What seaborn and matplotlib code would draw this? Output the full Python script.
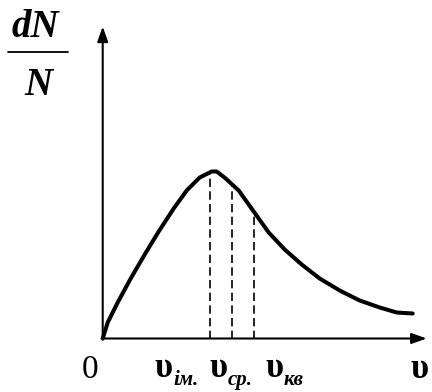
import matplotlib
matplotlib.use("Agg")
import matplotlib.pyplot as plt
import seaborn as sns
import pandas as pd

# Maxwell speed distribution sketch (arbitrary units)
v = [0, 5, 15, 28, 42, 56, 71, 84, 97, 109, 114, 123, 136, 151, 166, 182, 199, 217, 237, 257, 277, 294, 310]
f = [0, 16, 36, 60, 84, 107, 130, 148, 161, 167, 167, 160, 148, 127, 106, 89, 74, 60, 48, 38, 31, 26, 25]

# characteristic speeds: most probable, mean, root-mean-square
v_marks = [107, 129, 151]
f_marks = [167, 154, 127]
mark_names = ["ім.", "ср.", "кв"]

df = pd.DataFrame({"v": v, "f": f})

sns.set_style("white")
plt.rcParams['font.family'] = ['Liberation Serif', 'DejaVu Serif']
plt.rcParams['text.color'] = 'black'

fig = plt.figure(figsize=(4.32, 3.92), dpi=100)
ax = fig.add_axes([0, 0, 1, 1])
ax.set_xlim(-102.7, 432 - 102.7)
ax.set_ylim(-(392 - 338.5), 338.5)
ax.axis("off")

# axes with arrows
arrow = dict(arrowstyle='-|>,head_length=0.9,head_width=0.32', color='black',
             lw=1.5, mutation_scale=10, shrinkA=0, shrinkB=0)
ax.annotate("", xy=(324, 0), xytext=(-1, 0), arrowprops=arrow)
ax.annotate("", xy=(0, 312), xytext=(0, -1), arrowprops=arrow)

# curve
sns.lineplot(data=df, x="v", y="f", sort=False, color="black", lw=2.9, ax=ax,
             solid_capstyle="round", solid_joinstyle="round")

# dashed lines at characteristic speeds
ax.vlines(v_marks, 0, f_marks, colors="black", lw=1.2, linestyles=(0, (5, 2.6)))

# y label as fraction dN/N
fig.text(35 / 432, 1 - 37 / 392, "dN", fontsize=28, fontweight="bold", style="italic",
         ha="center", va="baseline", color="black")
fig.lines.append(plt.Line2D([8 / 432, 68 / 432], [1 - 52 / 392] * 2, color="black", lw=1.3,
                            transform=fig.transFigure))
fig.text(38 / 432, 1 - 95 / 392, "N", fontsize=28, fontweight="bold", style="italic",
         ha="center", va="baseline", color="black")

# origin
fig.text(90 / 432, 1 - 378 / 392, "0", fontsize=24, ha="center", va="baseline", color="black")

# speed labels
label_x = [154, 209, 265]
sub_x = [173, 228, 284]
for x0, xs, name in zip(label_x, sub_x, mark_names):
    fig.text(x0 / 432, 1 - 377 / 392, "υ", fontsize=25, fontweight="bold",
             ha="left", va="baseline", color="black")
    fig.text(xs / 432, 1 - 385 / 392, name, fontsize=15, fontweight="bold",
             style="italic", ha="left", va="baseline", color="black")
fig.text(410 / 432, 1 - 378 / 392, "υ", fontsize=25, fontweight="bold",
         ha="left", va="baseline", color="black")

fig.savefig("out.png", dpi=100)
